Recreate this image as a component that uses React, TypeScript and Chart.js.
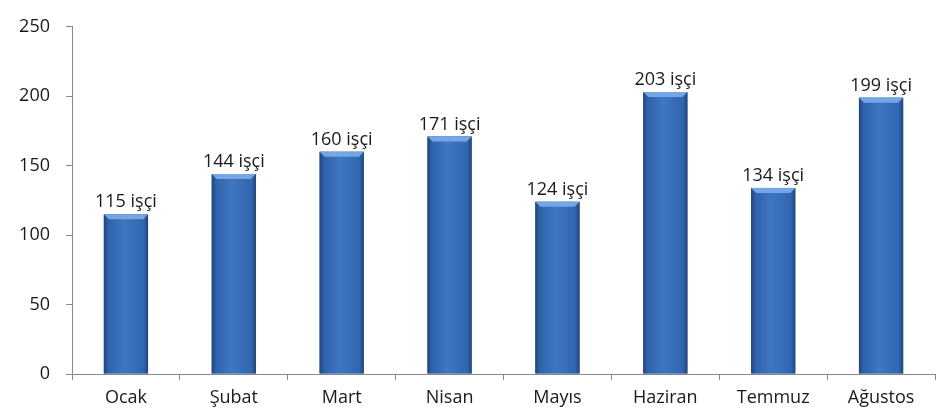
import React, { useEffect, useRef } from "react";
import { Chart, registerables } from "chart.js";

Chart.register(...registerables);

const categories = ["Ocak", "Şubat", "Mart", "Nisan", "Mayıs", "Haziran", "Temmuz", "Ağustos"];
const values = [115, 144, 160, 171, 124, 203, 134, 199];
const unit = "işçi";
const yTicks = [0, 50, 100, 150, 200, 250];

const FONT = "'Open Sans', 'Noto Sans', sans-serif";

const barStyle = {
  id: "barStyle",
  afterDatasetsDraw(chart: any) {
    const ctx = chart.ctx;
    const meta = chart.getDatasetMeta(0);
    ctx.save();
    meta.data.forEach((bar: any, i: number) => {
      const { x, y, width, base } = bar;
      const left = x - width / 2;
      const right = x + width / 2;
      const g = ctx.createLinearGradient(left, 0, right, 0);
      g.addColorStop(0, "#1c4580");
      g.addColorStop(0.1, "#2f62aa");
      g.addColorStop(0.45, "#3f77c2");
      g.addColorStop(0.9, "#3166b0");
      g.addColorStop(1, "#1c4580");
      ctx.fillStyle = g;
      ctx.fillRect(left, y, width, base - y);
      // top bevel
      const bev = 5;
      ctx.beginPath();
      ctx.moveTo(left, y);
      ctx.lineTo(right, y);
      ctx.lineTo(right - bev, y + bev);
      ctx.lineTo(left + bev, y + bev);
      ctx.closePath();
      ctx.fillStyle = "rgba(120,170,230,0.95)";
      ctx.fill();
      // label
      ctx.fillStyle = "#1a1a1a";
      ctx.font = `18px ${FONT}`;
      ctx.textAlign = "center";
      ctx.textBaseline = "alphabetic";
      ctx.fillText(`${values[i]} ${unit}`, x, y - 7);
    });
    ctx.restore();
  },
};

export default function App() {
  const ref = useRef<HTMLCanvasElement>(null);
  useEffect(() => {
    document.body.style.margin = "0";
    const canvas = ref.current!;
    const chart = new Chart(canvas, {
      type: "bar",
      data: {
        labels: categories,
        datasets: [
          {
            data: values,
            barPercentage: 0.41,
            categoryPercentage: 1,
            borderWidth: 0,
            backgroundColor: "#3a6fb8",
          },
        ],
      },
      options: {
        animation: false,
        responsive: false,
        layout: { padding: { top: 19, right: 8, left: 0, bottom: 0 } },
        plugins: { legend: { display: false }, tooltip: { enabled: false } },
        scales: {
          x: {
            afterFit: (s: any) => { s.height = 34; },
            grid: { drawOnChartArea: false, drawTicks: true, tickLength: 6, color: "#8a8a8a" },
            border: { color: "#8a8a8a" },
            ticks: { color: "#1a1a1a", font: { family: FONT, size: 18 }, padding: 7 },
          },
          y: {
            min: 0,
            max: 250,
            afterFit: (s: any) => { s.width = 72; },
            afterBuildTicks: (s: any) => { s.ticks = yTicks.map((v) => ({ value: v })); },
            grid: { drawOnChartArea: false, drawTicks: true, tickLength: 6, color: "#8a8a8a" },
            border: { color: "#8a8a8a" },
            ticks: { color: "#1a1a1a", font: { family: FONT, size: 18 }, padding: 16 },
          },
        },
      },
      plugins: [barStyle],
    });
    return () => chart.destroy();
  }, []);
  return (
    <div style={{ position: "absolute", left: 0, top: 0, width: 943, height: 408, background: "#fff" }}>
      <canvas ref={ref} width={943} height={408} />
    </div>
  );
}
